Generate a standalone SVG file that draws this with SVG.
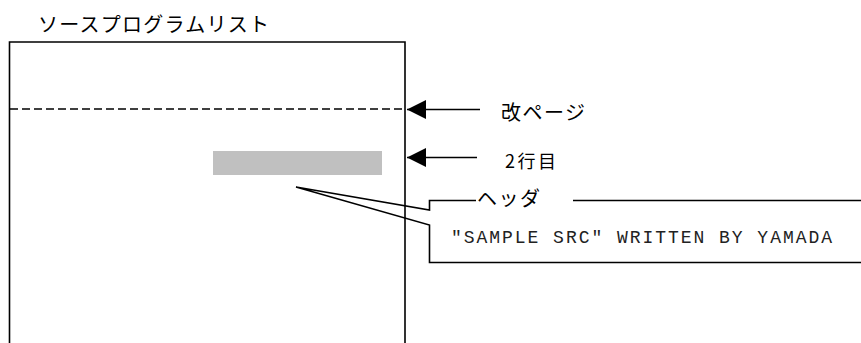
<svg xmlns="http://www.w3.org/2000/svg" width="861" height="343" viewBox="0 0 861 343">
<style>
.ln{stroke:#000;stroke-width:1.6;fill:none}
.jp{font-family:"Noto Sans CJK JP","Noto Sans",sans-serif;fill:#000}
.mono{font-family:"Liberation Mono","Courier New",monospace;fill:#222}
</style>
<defs>
<marker id="ah" viewBox="0 0 20 20" refX="19" refY="10" markerWidth="20" markerHeight="20" markerUnits="userSpaceOnUse" orient="auto">
<path d="M19,10 L0,0.5 L0,19.5 Z" fill="#000"/>
</marker>
</defs>
<rect width="861" height="343" fill="#fff"/>
<g id="listing">
<text class="jp" x="38" y="32" font-size="20" textLength="231" lengthAdjust="spacing">ソースプログラムリスト</text>
<path class="ln" d="M9.5,345 V42 H405 V345" stroke-width="1.8"/>
<line class="ln" x1="10" y1="109" x2="405" y2="109" stroke-dasharray="8,4"/>
<rect x="213" y="151" width="169" height="24" fill="#c0c0c0"/>
</g>
<g id="connectors">
<line class="ln" x1="480" y1="109.5" x2="407" y2="109.5" marker-end="url(#ah)"/>
<line class="ln" x1="477" y1="157.5" x2="407" y2="157.5" marker-end="url(#ah)"/>
</g>
<g id="label-page">
<text class="jp" x="501" y="120" font-size="20" textLength="84" lengthAdjust="spacing">改ページ</text>
</g>
<g id="label-line2">
<text class="jp" x="505" y="168" font-size="18" textLength="51" lengthAdjust="spacing">2行目</text>
</g>
<g id="header-callout">
<path class="ln" d="M476,200.5 H429.5 V210 L296,187 L429.5,225 V262.5 H862"/>
<line class="ln" x1="573" y1="200.5" x2="862" y2="200.5"/>
<text class="jp" x="477" y="206" font-size="20" textLength="63" lengthAdjust="spacing">ヘッダ</text>
<text class="mono" x="451" y="243" font-size="18" textLength="381" lengthAdjust="spacing">"SAMPLE SRC" WRITTEN BY YAMADA</text>
</g>
</svg>
